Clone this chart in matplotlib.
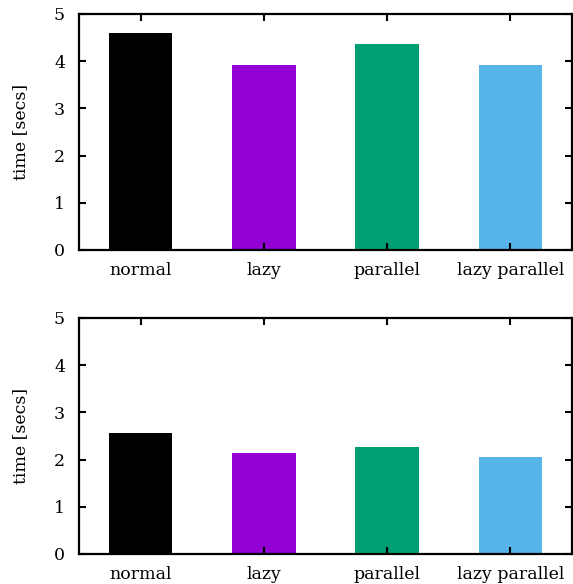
import matplotlib
matplotlib.use("Agg")
import matplotlib.pyplot as plt

categories = ["normal", "lazy", "parallel", "lazy parallel"]
times_top = [4.60, 3.91, 4.36, 3.91]
times_bottom = [2.56, 2.15, 2.27, 2.06]
colors = ["#000000", "#9400D3", "#009E73", "#56B4E9"]
yticks = [0, 1, 2, 3, 4, 5]

plt.rcParams["font.family"] = ["DejaVu Serif"]
plt.rcParams["font.size"] = 12

fig = plt.figure(figsize=(5.73, 5.84), dpi=100)
W, H = 573, 584

def make_ax(top_px, bottom_px, values):
    left_px, right_px = 79, 572
    ax = fig.add_axes([left_px / W, 1 - bottom_px / H,
                       (right_px - left_px) / W, (bottom_px - top_px) / H])
    x = list(range(len(categories)))
    ax.bar(x, values, width=0.515, color=colors, linewidth=0, zorder=1)
    ax.set_xlim(-0.5, len(categories) - 0.5)
    ax.set_ylim(0, 5)
    ax.set_xticks(x)
    ax.set_xticklabels(categories)
    ax.set_yticks(yticks)
    ax.tick_params(direction="in", length=5, width=1.5, top=True, right=True,
                   pad=10, labelsize=12.5, colors="black")
    ax.tick_params(axis="x", pad=8.5)
    for s in ax.spines.values():
        s.set_linewidth(1.6)
        s.set_zorder(3)
    ax.set_ylabel("time [secs]", fontsize=12.5)
    ax.yaxis.set_label_coords(-(79 - 29) / 493, 0.5)
    return ax

make_ax(14, 250, times_top)
make_ax(318, 554, times_bottom)

fig.savefig("out.png", dpi=100)
